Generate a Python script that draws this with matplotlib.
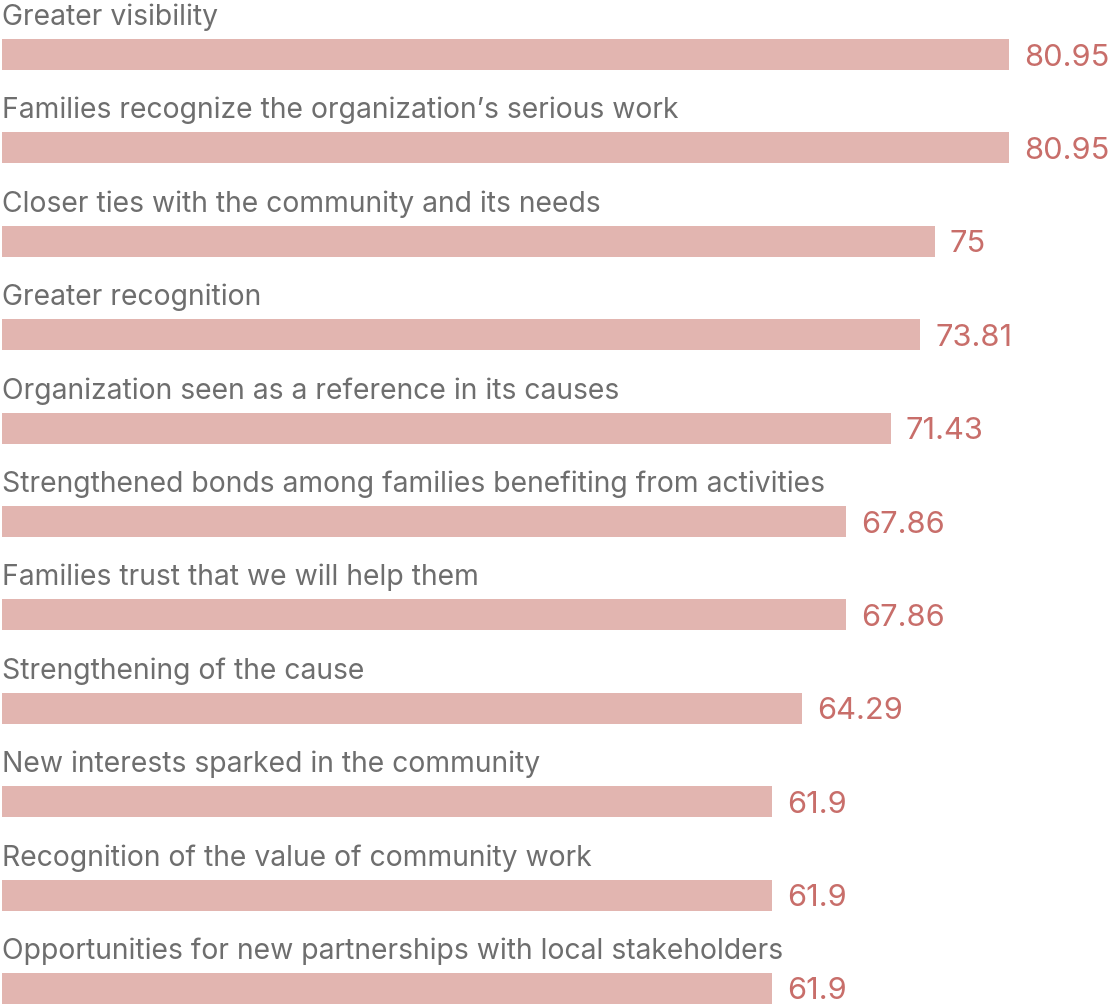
import numpy as np
import matplotlib.pyplot as plt

labels = [
    'Greater visibility',
    'Families recognize the organization\u2019s serious work',
    'Closer ties with the community and its needs',
    'Greater recognition',
    'Organization seen as a reference in its causes',
    'Strengthened bonds among families benefiting from activities',
    'Families trust that we will help them',
    'Strengthening of the cause',
    'New interests sparked in the community',
    'Recognition of the value of community work',
    'Opportunities for new partnerships with local stakeholders',
]
values = [80.95, 80.95, 75, 73.81, 71.43, 67.86, 67.86, 64.29, 61.9, 61.9, 61.9]
value_text = ['80.95', '80.95', '75', '73.81', '71.43', '67.86', '67.86', '64.29', '61.9', '61.9', '61.9']

bar_color = '#E2B5B0'
value_color = '#C86E6A'
label_color = '#6E6E6E'

W, H = 1112, 1005
fig = plt.figure(figsize=(W / 100, H / 100), dpi=100)
# axes spans the full height; x from the left edge to where the top bar ends
ax = fig.add_axes([2 / W, 0, 1007 / W, 1])

y = np.arange(len(labels))
ax.barh(y, values, height=0.332, color=bar_color)

ax.set_xlim(0, max(values))
ax.set_ylim(10.177, -0.584)
ax.axis('off')

for i, (lab, v, t) in enumerate(zip(labels, values, value_text)):
    ax.text(0, i - 0.316, lab, fontsize=20.4, color=label_color,
            family='Inter', va='baseline', ha='left', clip_on=False)
    ax.annotate(t, (v, i), xytext=(15, -3), textcoords='offset pixels',
                fontsize=22.2, color=value_color, family='Inter',
                va='center', ha='left', annotation_clip=False)

fig.savefig('out.png', dpi=100)
